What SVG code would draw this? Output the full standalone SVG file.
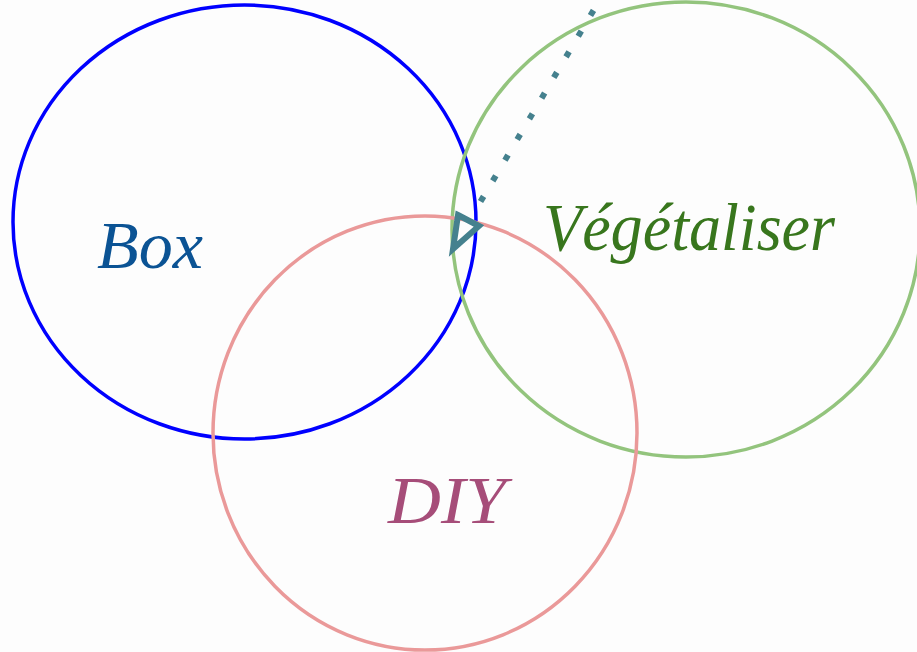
<svg xmlns="http://www.w3.org/2000/svg" width="917" height="652" viewBox="0 0 917 652">
<style>
.c{fill:none;stroke-width:3.5}
.t{font-family:"Liberation Serif","DejaVu Serif",serif;font-style:italic;font-size:68px}
</style>
<rect width="917" height="652" fill="#fdfdfd"/>
<g id="box"><ellipse class="c" cx="244.5" cy="222" rx="231.5" ry="217" stroke="#0000ff" stroke-width="4"/><text class="t" x="97" y="268" fill="#0b5394" textLength="106" lengthAdjust="spacingAndGlyphs">Box</text></g>
<g id="vegetaliser"><ellipse class="c" cx="686" cy="229.5" rx="234" ry="227.5" stroke="#93c47d"/><text class="t" x="543" y="250" fill="#38761d" textLength="292" lengthAdjust="spacingAndGlyphs">Végétaliser</text></g>
<g id="diy"><ellipse class="c" cx="425" cy="433" rx="212" ry="217" stroke="#ea9999"/><text class="t" x="388" y="523" fill="#a64d79" textLength="118" lengthAdjust="spacingAndGlyphs">DIY</text></g>
<g id="connectors">
<path d="M593.5,10.4 L480.5,201.6" fill="none" stroke="#45818e" stroke-width="6" stroke-dasharray="6 18"/>
<polygon points="458,215 479,226 453,249" fill="none" stroke="#45818e" stroke-width="6" stroke-linejoin="miter"/>
</g>
</svg>
